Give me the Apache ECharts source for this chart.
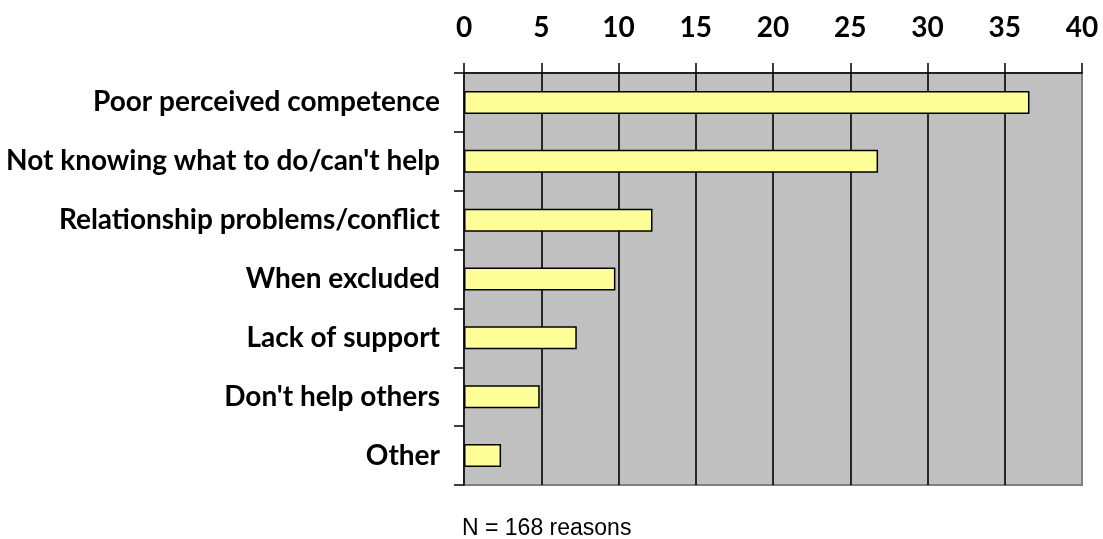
<!DOCTYPE html>
<html>
<head>
<meta charset="utf-8">
<script src="https://cdn.jsdelivr.net/npm/echarts@6/dist/echarts.min.js"></script>
<style>
  html, body { margin: 0; padding: 0; background: #ffffff; }
  #chart { width: 1103px; height: 539px; }
</style>
</head>
<body>
<div id="chart"></div>
<script>
// Reasons given, top to bottom
const categories = [
  'Poor perceived competence',
  "Not knowing what to do/can't help",
  'Relationship problems/conflict',
  'When excluded',
  'Lack of support',
  "Don't help others",
  'Other'
];
const values = [36.6, 26.8, 12.2, 9.8, 7.3, 4.9, 2.4];
const axisMin = 0;
const axisMax = 40;
const axisStep = 5;
const footnote = 'N = 168 reasons';

const labelFont = 'Lato, "Open Sans", sans-serif';

const chart = echarts.init(document.getElementById('chart'), null, { renderer: 'canvas' });

chart.setOption({
  animation: false,
  backgroundColor: '#ffffff',
  grid: {
    left: 464,
    right: 21,
    top: 73,
    bottom: 54,
    show: true,
    backgroundColor: '#c0c0c0',
    borderColor: '#808080',
    borderWidth: 2
  },
  xAxis: {
    type: 'value',
    position: 'top',
    min: axisMin,
    max: axisMax,
    interval: axisStep,
    axisLine: { show: true, onZero: false, lineStyle: { color: '#000000', width: 1.5 } },
    axisTick: { show: true, inside: false, length: 10, lineStyle: { color: '#000000', width: 1.5 } },
    axisLabel: {
      margin: 31,
      color: '#000000',
      fontFamily: labelFont,
      fontWeight: 'bold',
      fontSize: 28
    },
    splitLine: {
      show: true,
      showMinLine: false,
      showMaxLine: false,
      lineStyle: { color: '#000000', width: 1.6 }
    }
  },
  yAxis: {
    type: 'category',
    inverse: true,
    data: categories,
    axisLine: { show: true, lineStyle: { color: '#000000', width: 1.5 } },
    axisTick: { show: true, inside: false, length: 10, alignWithLabel: false, lineStyle: { color: '#000000', width: 1.5 } },
    axisLabel: {
      margin: 24,
      color: '#000000',
      fontFamily: labelFont,
      fontWeight: 'bold',
      fontSize: 28
    },
    splitLine: { show: false }
  },
  series: [{
    type: 'bar',
    data: values,
    barWidth: 23,
    itemStyle: {
      color: '#ffff99',
      borderColor: '#000000',
      borderWidth: 1.5
    },
    silent: true
  }],
  graphic: [{
    type: 'text',
    left: 462,
    top: 517,
    style: {
      text: footnote,
      fill: '#000000',
      font: '23px "Liberation Sans", Arial, sans-serif'
    }
  }]
});
</script>
</body>
</html>
